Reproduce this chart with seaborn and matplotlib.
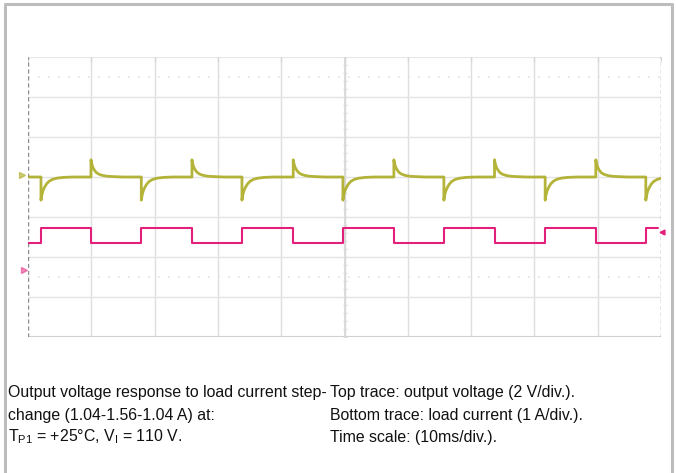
import numpy as np
import pandas as pd
import matplotlib
matplotlib.use("Agg")
import matplotlib.pyplot as plt
import seaborn as sns

# ---- data (x in ms, y in divisions, 0 = ch1 level)
t_up = [2.05, 17.9, 33.8, 49.75, 65.7, 81.7, 97.6]      # load current step up
t_down = [9.95, 25.9, 41.9, 57.8, 73.7, 89.7]          # load current step down
i_low = -1.65
i_high = -1.28
t_end = 99.6

# transient shape after a step (ms after step, divisions)
dip_t = [0, 0.0, 0.12, 0.3, 0.55, 0.85, 1.25, 1.8, 2.5, 3.5, 5.0]
dip_v = [0, -0.58, -0.46, -0.35, -0.26, -0.18, -0.11, -0.06, -0.03, -0.01, 0]
spike_t = [0, 0.0, 0.12, 0.3, 0.55, 0.85, 1.25, 1.8, 2.5, 3.5, 5.0]
spike_v = [0, 0.43, 0.33, 0.24, 0.17, 0.11, 0.07, 0.04, 0.02, 0.01, 0]

text_left = ["Output voltage response to load current step-",
             "change (1.04-1.56-1.04 A) at:",
             r"T$_{\rm P1}$ = +25°C, V$_{\rm I}$ = 110 V."]
text_right = ["Top trace: output voltage (2 V/div.).",
              "Bottom trace: load current (1 A/div.).",
              "Time scale: (10ms/div.)."]

yellow = "#acac24"
magenta = "#e2207c"

# ---- build traces
events = sorted([(t, "up") for t in t_up] + [(t, "down") for t in t_down])
vx, vy = [0.0], [0.0]
ix, iy = [0.0], [i_low]
level = i_low
for t, kind in events:
    pt, pv = (dip_t, dip_v) if kind == "up" else (spike_t, spike_v)
    vx += [t + d for d in pt]
    vy += pv
    new = i_high if kind == "up" else i_low
    ix += [t, t]
    iy += [level, new]
    level = new
vx.append(101)
vy.append(0)
ix.append(t_end)
iy.append(level)
volt = pd.DataFrame({"t": vx, "v": vy})
curr = pd.DataFrame({"t": ix, "i": iy})

# ---- figure
sns.set_style("white")
plt.rcParams['font.family'] = ['Liberation Sans', 'DejaVu Sans']
plt.rcParams['mathtext.fontset'] = 'custom'
plt.rcParams['mathtext.rm'] = 'Liberation Sans'

W, H = 677, 473
fig = plt.figure(figsize=(W / 100, H / 100), dpi=100)

# outer frame
bg = fig.add_axes([0, 0, 1, 1])
bg.set_xlim(0, W)
bg.set_ylim(H, 0)
bg.axis("off")
bg.plot([4.5, 4.5, 671.5, 671.5], [H, 4.5, 4.5, H], color="#bdbdbd", lw=2.2)

ax = fig.add_axes([28 / W, 1 - 337 / H, 633 / W, 280 / H])
ax.set_xlim(0, 100)
ax.set_ylim(-4, 3)
for s in ax.spines.values():
    s.set_visible(False)
ax.set_xticks([])
ax.set_yticks([])

# graticule
for x in range(10, 100, 10):
    ax.axvline(x, color="#dedede", lw=1, zorder=0)
for y in range(-3, 3):
    ax.axhline(y, color="#e4e4e4", lw=1, zorder=0)
ax.axhline(3, color="#e6e6e6", lw=1.5, zorder=0)
ax.axhline(-4, color="#d0d0d0", lw=1.5, zorder=0)
for y in (2.5, -2.5):
    ax.axhline(y, color="#e0e0e0", lw=1.2, ls=(0, (1, 5)), zorder=0)
ax.axvline(50, color="#d6d6d6", lw=1.2, zorder=0)
ax.plot([50] * 36, np.arange(-4, 3.01, 0.2)[:36], ls="none", marker="_",
        ms=3, color="#dcdcdc", zorder=0)
ax.plot(np.arange(0, 101, 10), [2.95] * 11, ls="none", marker="|", ms=5,
        color="#d8d8d8", zorder=0)
ax.axvline(0, color="#8c8c8c", lw=1, ls=(0, (3, 2)), zorder=1)
ax.axvline(100, color="#8c8c8c", lw=1, ls=(0, (3, 2)), zorder=1)

# traces
sns.lineplot(data=volt, x="t", y="v", sort=False, estimator=None,
             color=yellow, lw=2.0, alpha=0.9, ax=ax, zorder=3)
sns.lineplot(data=curr, x="t", y="i", sort=False, estimator=None,
             color=magenta, lw=1.5, ax=ax, zorder=3)
ax.set_xlabel("")
ax.set_ylabel("")

# channel markers
ax.plot([-0.9], [0.05], marker=">", ms=4, color=yellow, alpha=0.6, clip_on=False)
ax.plot([-0.7], [-2.32], marker=">", ms=4, color=magenta, alpha=0.5, clip_on=False)
ax.plot([100.2], [-1.37], marker="<", ms=3.5, color=magenta, clip_on=False)

# caption
for k, (a, b) in enumerate(zip(text_left, text_right)):
    y = 1 - (393 + 22 * k) / H
    fig.text(8 / W, y, a, fontsize=11.4, va="center", ha="left", color="#111111")
    fig.text(330 / W, y, b, fontsize=11.4, va="center", ha="left", color="#111111")

plt.savefig("out.png", dpi=100)
